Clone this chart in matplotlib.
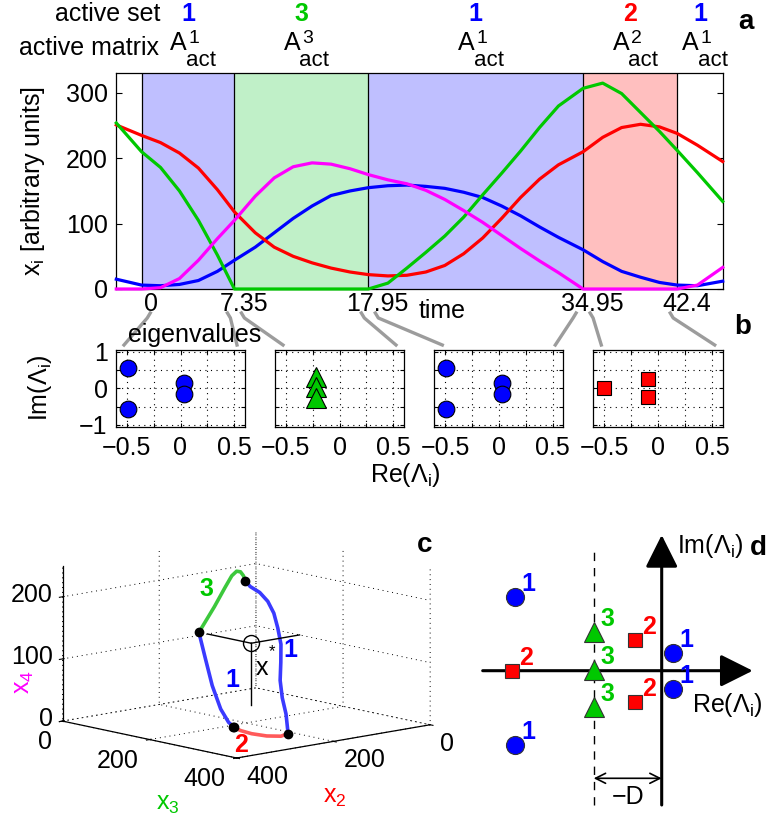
import numpy as np
import matplotlib
matplotlib.use("Agg")
import matplotlib.pyplot as plt
from matplotlib.lines import Line2D

plt.rcParams['font.family'] = ['Liberation Sans', 'DejaVu Sans']
plt.rcParams['mathtext.fontset'] = 'custom'
plt.rcParams['mathtext.rm'] = 'Liberation Sans'
plt.rcParams['mathtext.it'] = 'Liberation Sans:italic'
plt.rcParams['mathtext.bf'] = 'Liberation Sans:bold'
plt.rcParams['font.size'] = 18
plt.rcParams['axes.linewidth'] = 0.9

W, H, DPI = 769, 823, 100

BLUE = '#0000ff'
RED = '#ff0000'
GREEN = '#00c800'
MAGENTA = '#ff00ff'
set_colors = {1: BLUE, 2: RED, 3: GREEN}

# panel a: time course
time = [-2, 0, 1.5, 3, 4.5, 6, 7.35, 9, 10.5, 12, 13.5, 15, 16.5, 17.95,
        19.5, 21, 22.5, 24, 25.5, 27, 28.5, 30, 31.5, 33, 34.95, 36.5, 38,
        39.5, 41, 42.4, 44, 46]
x1 = [15, 6, 5, 7, 13, 27, 44, 64, 86, 108, 127, 143, 150, 155, 158, 159,
      157, 154, 148, 140, 127, 112, 95, 79, 60, 42, 27, 18, 10, 6, 5, 12]
x2 = [251, 235, 224, 208, 185, 152, 118, 86, 64, 50, 40, 32, 26, 22, 20, 21,
      26, 36, 54, 78, 108, 140, 168, 190, 210, 232, 247, 252, 248, 238, 220, 195]
x3 = [254, 210, 186, 150, 105, 52, 0, 0, 0, 0, 0, 0, 0, 0, 9, 32, 56, 81,
      110, 144, 177, 211, 247, 280, 307, 315, 299, 270, 241, 212, 178, 134]
x4 = [0, 0, 2, 16, 44, 77, 105, 142, 170, 187, 193, 191, 184, 175, 167, 161,
      151, 137, 120, 102, 82, 62, 43, 25, 0, 0, 0, 0, 0, 0, 6, 33]

switch_times = [0, 7.35, 17.95, 34.95, 42.4]
switch_labels = ['0', '7.35', '17.95', '34.95', '42.4']
region_start = [0, 7.35, 17.95, 34.95, 42.4]
region_end = [7.35, 17.95, 34.95, 42.4, 46]
region_set = [1, 3, 1, 2, 1]
region_shade = ['#bfbfff', '#c0f0c8', '#bfbfff', '#ffbfbf', None]

# panel b: eigenvalues of the active matrices
set1_re = [-0.49, -0.49, 0.03, 0.03]
set1_im = [0.57, -0.57, 0.15, -0.15]
set2_re = [-0.50, -0.09, -0.09]
set2_im = [0.0, 0.25, -0.25]
set3_re = [-0.22, -0.22, -0.22]
set3_im = [0.32, 0.03, -0.27]
box_sets = [1, 3, 1, 2]

# panel c: fixed point and axis ticks
xstar = [100, 100, 100]
c_ticks_h = [0, 200, 400]
c_ticks_z = [0, 100, 200]

# panel d: schematic eigenvalue positions
d_set1_re = [-1.47, -1.47, 0.11, 0.11]
d_set1_im = [0.74, -0.74, 0.18, -0.18]
d_set2_re = [-1.50, -0.27, -0.27]
d_set2_im = [0.0, 0.31, -0.31]
d_set3_re = [-0.68, -0.68, -0.68]
d_set3_im = [0.385, 0.01, -0.36]
D = 0.68


def px_rect(left, top, right, bottom):
    return [left / W, 1 - bottom / H, (right - left) / W, (bottom - top) / H]


def ftext(x, y, s, **kw):
    fig.text(x / W, 1 - y / H, s, **kw)


fig = plt.figure(figsize=(W / DPI, H / DPI), dpi=DPI)

# ---------------- panel a ----------------
ax_a = fig.add_axes(px_rect(116.3, 73.3, 722.7, 289))
for t0, t1, shade in zip(region_start, region_end, region_shade):
    if shade:
        ax_a.axvspan(t0, t1, color=shade, lw=0)
for t in switch_times:
    ax_a.axvline(t, color='k', lw=0.9)
for vals, col in [(x1, BLUE), (x2, RED), (x3, GREEN), (x4, MAGENTA)]:
    ax_a.plot(time, vals, color=col, lw=2.3, clip_on=False, zorder=3)
ax_a.set_xlim(-2, 46)
ax_a.set_ylim(0, 330)
ax_a.set_yticks([0, 100, 200, 300])
ax_a.tick_params(axis='y', direction='in', length=4, right=True, pad=6)
ax_a.set_xticks(np.array(switch_times) + 0.75, switch_labels)
ax_a.tick_params(axis='x', length=0, pad=2)


def head(s, tc, ybase, dx=0, **kw):
    ax_a.annotate(s, xy=(tc, H - ybase), xycoords=('data', 'figure pixels'),
                  xytext=(dx, 0), textcoords='offset pixels', va='baseline',
                  annotation_clip=False, **kw)


ftext(160, 20.7, 'active set', ha='right', va='baseline')
ftext(159, 55, 'active matrix', ha='right', va='baseline')
for t0, t1, s in zip(region_start, region_end, region_set):
    tc = (t0 + t1) / 2
    head(str(s), tc, 20.7, ha='center', color=set_colors[s], fontweight='bold')
    head('A', tc, 50, dx=-1, ha='right')
    head(str(s), tc, 43.3, dx=0.5, ha='left', fontsize=14)
    head('act', tc, 66, dx=-2, ha='left', fontsize=16)

ftext(33, 181, r'x$_\mathregular{i}$ [arbitrary units]', rotation=90,
      ha='center', va='center')
ftext(442, 311, 'time', ha='center', va='center')
ftext(746, 22, 'a', ha='center', va='center', fontweight='bold', fontsize=20)

# ---------------- panel b ----------------
box_left = [116, 275, 434.3, 593.3]
box_right = [245, 404, 563.3, 722.7]
eig = {1: (set1_re, set1_im, 'o', 12), 2: (set2_re, set2_im, 's', 10.5),
       3: (set3_re, set3_im, '^', 14)}
for i, s in enumerate(box_sets):
    ax = fig.add_axes(px_rect(box_left[i], 350, box_right[i], 426.7))
    re, im, mk, ms = eig[s]
    ax.plot(re, im, mk, color=set_colors[s], ms=ms, mec='k', mew=0.8,
            ls='none', zorder=3)
    ax.set_xlim(-0.6, 0.6)
    ax.set_ylim(-1.05, 1.05)
    ax.set_xticks([-0.5, -0.25, 0, 0.25, 0.5], ['\u22120.5', '', '0', '', '0.5'])
    if i == 0:
        ax.set_yticks([-1, -0.5, 0, 0.5, 1], ['\u22121', '', '0', '', '1'])
    else:
        ax.set_yticks([-1, -0.5, 0, 0.5, 1], [''] * 5)
    ax.grid(True, color='k', lw=0.8, linestyle=(0, (1, 4)))
    ax.tick_params(direction='in', length=3, top=True, right=True)
    ax.tick_params(axis='x', pad=7)
    ax.tick_params(axis='y', pad=6)

# grey connectors from the switching times to the eigenvalue boxes
connectors = [(0, 8.7, 0, 'L'), (7.35, -7, 0, 'R'), (7.35, 7, 1, 'L'),
              (17.95, -7, 1, 'R'), (17.95, 7, 2, 'L'), (34.95, -7, 2, 'R'),
              (34.95, 7, 3, 'L'), (42.4, -7, 3, 'R')]
for t, dx, bi, side in connectors:
    xt = 116.3 + (t + 2) / 48 * 606.4 + dx
    if side == 'L':
        xe = box_left[bi] + 8
    else:
        xe = box_right[bi] - 8
    hook = 3 if xe > xt else -3
    xs = np.array([xt, xt + hook, xe])
    ys = np.array([313, 318, 345])
    fig.add_artist(Line2D(xs / W, 1 - ys / H, transform=fig.transFigure,
                          color='#9c9c9c', lw=2.4, zorder=1))

ftext(128, 335, 'eigenvalues', ha='left', va='center')
ftext(40, 388, r'Im($\Lambda_\mathregular{i}$)', rotation=90, ha='center', va='center')
ftext(405, 475, r'Re($\Lambda_\mathregular{i}$)', ha='center', va='center')
ftext(743, 327, 'b', ha='center', va='center', fontweight='bold', fontsize=20)

# ---------------- panel c ----------------
ax_c = fig.add_axes(px_rect(16.7, 480.3, 476.7, 810.3), projection='3d',
                    proj_type='ortho', computed_zorder=False)
ax_c.patch.set_alpha(0)
ax_c.view_init(elev=11, azim=48)
aspect = (1, 1, 0.608)
ax_c.set_box_aspect(aspect)
ax_c.set_xlim(0, 400)
ax_c.set_ylim(0, 400)
ax_c.set_zlim(0, 250)
ax_c.set_xticks(c_ticks_h, [''] * 3)
ax_c.set_yticks(c_ticks_h, [''] * 3)
ax_c.set_zticks(c_ticks_z, [''] * 3)
for axis in (ax_c.xaxis, ax_c.yaxis, ax_c.zaxis):
    axis.set_pane_color((1, 1, 1, 0))
    axis.pane.set_edgecolor((1, 1, 1, 0))
    axis.line.set_color('k')
    axis.line.set_linewidth(0.9)
    axis._axinfo['grid'].update({'color': 'k', 'linewidth': 0.7,
                                 'linestyle': (0, (1, 4))})

seg_colors = {1: '#3a3aff', 2: '#ff5a5a', 3: '#3cc83c'}
time_arr = np.array(time)
x2a, x3a, x4a = np.array(x2), np.array(x3), np.array(x4)
for t0, t1, s in zip(region_start[:4], region_end[:4], region_set[:4]):
    m = (time_arr >= t0) & (time_arr <= t1)
    ax_c.plot(x2a[m], x3a[m], x4a[m], color=seg_colors[s], lw=2.6)
for t in switch_times:
    i = time.index(t)
    ax_c.plot([x2[i]], [x3[i]], [x4[i]], 'o', color='k', ms=6)

xs2, xs3, xs4 = xstar
ax_c.plot([0, xs2], [xs3, xs3], [xs4, xs4], color='k', lw=1)
ax_c.plot([xs2, xs2], [0, xs3], [xs4, xs4], color='k', lw=1)
ax_c.plot([xs2, xs2], [xs3, xs3], [0, xs4], color='k', lw=1)
ax_c.plot([xs2], [xs3], [xs4], 'o', mfc='none', mec='k', ms=11.5, mew=1)


def proj_px(ax, x, y, z):
    M = ax.get_proj()
    v = M @ np.array([x, y, z, 1.0])
    disp = ax.transData.transform((v[0] / v[3], v[1] / v[3]))
    return disp[0], H - disp[1]


# fit the projected box onto the reference geometry
fig.canvas.draw()
f = proj_px(ax_c, 400, 400, 0)
r = proj_px(ax_c, 0, 400, 0)
cur = np.hypot(f[0] - r[0], f[1] - r[1])
ax_c.set_box_aspect(aspect, zoom=196.3 / cur)
fig.canvas.draw()
f = proj_px(ax_c, 400, 400, 0)
pos = ax_c.get_position()
ax_c.set_position([pos.x0 + (236.7 - f[0]) / W, pos.y0 - (758 - f[1]) / H,
                   pos.width, pos.height])
fig.canvas.draw()

# tick labels placed next to the projected tick positions
for v in c_ticks_h:
    px, py = proj_px(ax_c, 400, v, 0)      # x3 axis, front-left edge
    ftext(px - 11, py + 21, str(v), ha='right', va='center')
    px, py = proj_px(ax_c, v, 400, 0)      # x2 axis, front-right edge
    ftext(px + 10, py + 19, str(v), ha='left', va='center')
for v in c_ticks_z:
    px, py = proj_px(ax_c, 400, 0, v)
    ftext(px - 10, py - 2, str(v), ha='right', va='center')

ftext(206, 589, '3', color=GREEN, fontweight='bold', ha='center', va='center')
ftext(290, 650, '1', color=BLUE, fontweight='bold', ha='center', va='center')
ftext(232, 680, '1', color=BLUE, fontweight='bold', ha='center', va='center')
ftext(241, 745, '2', color=RED, fontweight='bold', ha='center', va='center')
ftext(262, 668, 'x', ha='center', va='center')
ftext(272, 652, '*', ha='center', va='center', fontsize=12)
ftext(24, 682, r'x$_\mathregular{4}$', rotation=90, color=MAGENTA, ha='center', va='center')
ftext(168, 804, r'x$_\mathregular{3}$', color=GREEN, ha='center', va='center')
ftext(335, 797, r'x$_\mathregular{2}$', color=RED, ha='center', va='center')
ftext(425, 545, 'c', ha='center', va='center', fontweight='bold', fontsize=20)

# ---------------- panel d ----------------
ax_d = fig.add_axes(px_rect(470, 520, 769, 823))
ax_d.set_xlim(-1.917, 1.073)
ax_d.set_ylim(-1.523, 1.507)
ax_d.axis('off')
head_style = '-|>,head_length=0.4,head_width=0.2'
ax_d.annotate('', xy=(0.91, 0), xytext=(-1.79, 0),
              arrowprops=dict(arrowstyle=head_style, lw=2.2, color='k',
                              mutation_scale=50, shrinkA=0, shrinkB=0))
ax_d.annotate('', xy=(0, 1.357), xytext=(0, -1.343),
              arrowprops=dict(arrowstyle=head_style, lw=2.2, color='k',
                              mutation_scale=50, shrinkA=0, shrinkB=0))
ax_d.plot([-D, -D], [-1.343, 1.197], color='k', lw=1, ls=(0, (6, 5)))
ax_d.annotate('', xy=(0, -1.076), xytext=(-D, -1.076),
              arrowprops=dict(arrowstyle='<->', lw=1.2, color='k',
                              mutation_scale=18, shrinkA=0, shrinkB=0))
ax_d.text(-D / 2, -1.26, '\u2212D', ha='center', va='center')
ax_d.text(0.156, 1.25, r'Im($\Lambda_\mathregular{i}$)', ha='left', va='center')
ax_d.text(0.30, -0.34, r'Re($\Lambda_\mathregular{i}$)', ha='left', va='center')

d_eig = {1: (d_set1_re, d_set1_im, 'o', 13), 2: (d_set2_re, d_set2_im, 's', 10),
         3: (d_set3_re, d_set3_im, '^', 14)}
for s in (1, 2, 3):
    re, im, mk, ms = d_eig[s]
    ax_d.plot(re, im, mk, color=set_colors[s], ms=ms, mec='#333333', mew=0.8,
              ls='none', zorder=4)
    for a, b in zip(re, im):
        ax_d.annotate(str(s), xy=(a, b), xytext=(10, 9.5), textcoords='offset points',
                      ha='center', va='center', color=set_colors[s],
                      fontweight='bold', zorder=5)
ftext(758, 548, 'd', ha='center', va='center', fontweight='bold', fontsize=20)

fig.savefig('out.png', dpi=DPI)
